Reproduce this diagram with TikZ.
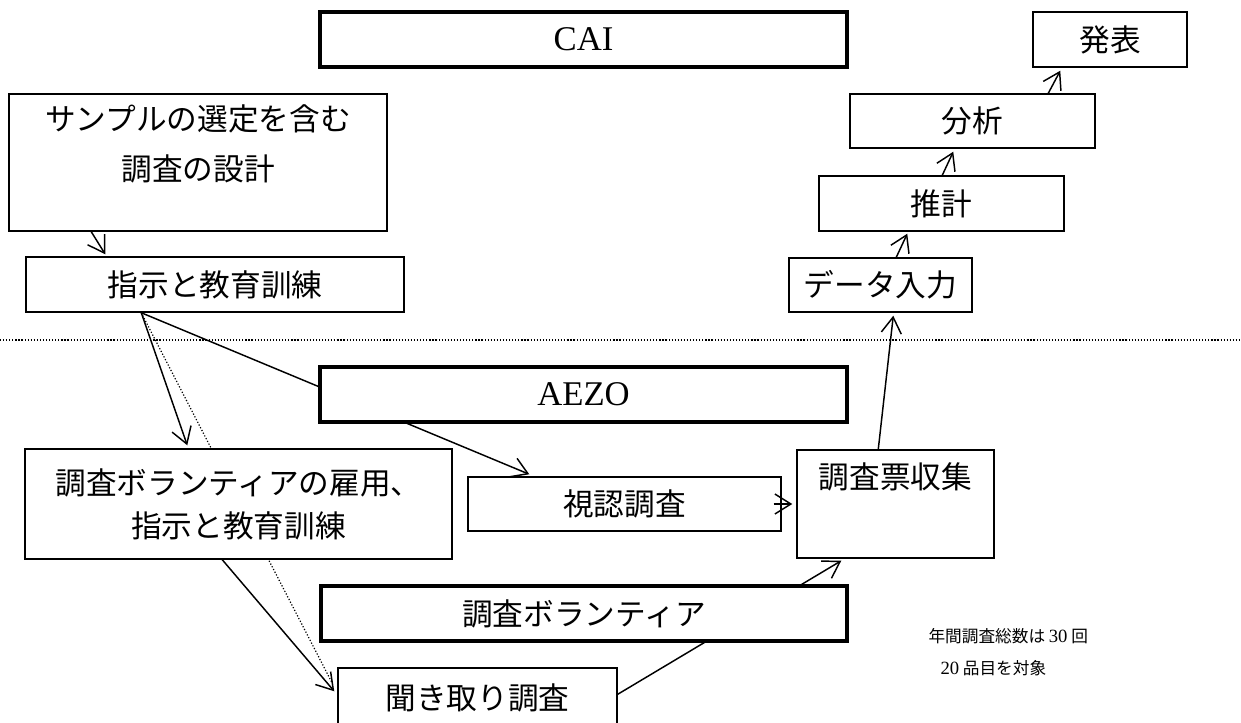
\documentclass[tikz,border=0pt]{standalone}
\usepackage{fontspec}
\setmainfont{Liberation Serif}
\newfontfamily\jp{Noto Sans CJK JP}
\usetikzlibrary{arrows.meta,calc,backgrounds}

\tikzset{every picture/.style={line width=0.75pt},
	box/.style={draw, fill=white, line width=1.1pt, inner sep=0pt, align=center, font=\jp\fontsize{23}{30}\selectfont},
	layerbox/.style={box, line width=2.4pt, font=\fontsize{26}{30}\selectfont},
	flow/.style={line width=1.1pt, -{Straight Barb[length=12pt,width=15pt]}},
	sepline/.style={line width=0.9pt, dash pattern=on 0.9pt off 1.4pt}}

\begin{document}
\begin{tikzpicture}[x=0.75pt,y=0.75pt,yscale=-1,xscale=1]
	\useasboundingbox (0,0) rectangle (1241,722);

	%Shape: Rectangle [CAI]
	\node [layerbox, minimum width=395.25pt, minimum height=41.25pt] (cai) at (583.5,39.5) {CAI};
	%Shape: Rectangle [AEZO]
	\node [layerbox, minimum width=395.25pt, minimum height=41.25pt] (aezo) at (583.5,394.5) {AEZO};
	%Shape: Rectangle [volunteers]
	\node [layerbox, font=\jp\fontsize{23}{30}\selectfont, minimum width=394.5pt, minimum height=41.25pt] (vol) at (584,613.5) {調査ボランティア};

	%Shape: Rectangle [left column]
	\node [box, text width=283.5pt, font=\jp\fontsize{23}{37.5}\selectfont, text height=27pt, text depth=75.75pt] (samp) at (198,162.5) {サンプルの選定を含む\\調査の設計};
	\node [box, minimum width=283.5pt, minimum height=41.25pt] (instr) at (215,284.5) {指示と教育訓練};
	\node [box, font=\jp\fontsize{23}{32.25}\selectfont, minimum width=320.25pt, minimum height=82.5pt] (emp) at (238.5,504) {調査ボランティアの雇用、\\指示と教育訓練};
	\node [box, minimum width=209.25pt, minimum height=45pt] (kiki) at (477.5,698) {聞き取り調査};
	\node [box, minimum width=234.75pt, minimum height=40.5pt] (siny) at (624.5,504) {視認調査};

	%Shape: Rectangle [right column]
	\node [box, minimum width=147.75pt, text height=29pt, text depth=52pt] (syu) at (895.5,504) {調査票収集};
	\node [box, minimum width=137.25pt, minimum height=40.5pt] (data) at (880.5,285) {データ入力};
	\node [box, minimum width=183.75pt, minimum height=41.25pt] (suikei) at (941.5,203.5) {推計};
	\node [box, minimum width=183.75pt, minimum height=40.5pt] (bunseki) at (972.5,121) {分析};
	\node [box, minimum width=115.5pt, minimum height=41.25pt] (happyo) at (1110,39.5) {発表};

	% Text Node
	\node [anchor=west, inner sep=0pt, font=\jp\fontsize{12.5}{16}\selectfont] (note1) at (928,636) {年間調査総数は {\rmfamily\fontsize{14}{16}\selectfont 30} 回};
	% Text Node
	\node [anchor=west, inner sep=0pt, font=\jp\fontsize{12.5}{16}\selectfont] (note2) at (940,668) {{\rmfamily\fontsize{14}{16}\selectfont 20} 品目を対象};

	\begin{scope}[on background layer]
	%Straight Lines [separator]
	\draw [sepline] (0,340) -- (1241,340);
	%Straight Lines
	\draw [flow] ($(samp.south west)+(83,0)$) -- ($(instr.north west)+(80,-2)$);
	\draw [flow] ($(instr.south west)+(116,0)$) -- ($(emp.north west)+(163,-3)$);
	\draw [sepline] ($(instr.south west)+(116,0)$) -- ($(kiki.north west)+(-5,16)$);
	\draw [flow] ($(emp.south west)+(198,0)$) -- ($(kiki.north west)+(-3,24)$);
	\draw [flow] ($(instr.south west)+(116,0)$) -- ($(siny.north west)+(62,-2)$);
	\draw [flow] ($(kiki.north east)+(0,27)$) -- ($(syu.south west)+(45,2)$);
	\draw [flow] ($(syu.north west)+(82,0)$) -- ($(data.south west)+(105,3)$);
	\draw [flow] ($(data.north west)+(108,0)$) -- ($(suikei.south west)+(89,2)$);
	\draw [flow] ($(suikei.north west)+(124,0)$) -- ($(bunseki.south west)+(104,3)$);
	\draw [flow] ($(bunseki.north west)+(199,0)$) -- ($(happyo.south west)+(28,3)$);
	\end{scope}
	%Straight Lines [short arrow over the box edge]
	\draw [flow] ($(siny.east)+(-8,0)$) -- ($(syu.west)+(-4,0)$);

\end{tikzpicture}
\end{document}
